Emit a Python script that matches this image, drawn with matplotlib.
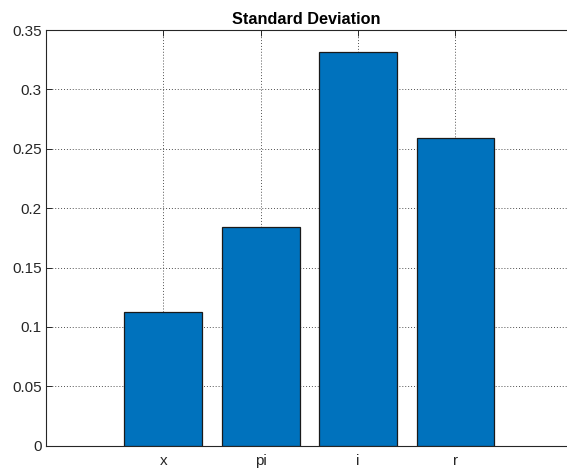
import matplotlib
matplotlib.use("Agg")
import matplotlib.pyplot as plt
import numpy as np

categories = ["x", "pi", "i", "r"]
values = [0.1123, 0.1839, 0.3317, 0.2593]
yticks = [0, 0.05, 0.1, 0.15, 0.2, 0.25, 0.3, 0.35]
ytick_labels = ["0", "0.05", "0.1", "0.15", "0.2", "0.25", "0.3", "0.35"]

plt.rcParams['font.family'] = ['Liberation Sans', 'DejaVu Sans']

fig = plt.figure(figsize=(5.67, 4.72), dpi=100)
ax = fig.add_axes([0.082, 0.0557, 0.918, 0.8807])

pos = np.arange(1, len(categories) + 1)
ax.bar(pos, values, width=0.8, color="#0072BD", edgecolor="#1a1a1a", linewidth=0.9, zorder=3)

ax.set_xlim(-0.2, 5.145)
ax.set_ylim(0, 0.35)
ax.set_xticks(pos)
ax.set_xticklabels(categories)
ax.set_yticks(yticks)
ax.set_yticklabels(ytick_labels)

ax.grid(True, linestyle=(0, (1, 2)), color="#262626", linewidth=0.7, alpha=0.8, zorder=0)
ax.set_axisbelow(True)
ax.tick_params(direction="in", length=4, width=0.7, colors="#262626", labelsize=11, labelcolor="#262626", top=True, right=False)
ax.tick_params(axis="x", pad=6)
for s in ["left", "bottom", "top"]:
    ax.spines[s].set_color("#262626")
    ax.spines[s].set_linewidth(0.8)
ax.spines["right"].set_visible(False)

ax.set_title("Standard Deviation", fontsize=11.7, fontweight="bold", pad=4)

fig.savefig("out.png", dpi=100)
